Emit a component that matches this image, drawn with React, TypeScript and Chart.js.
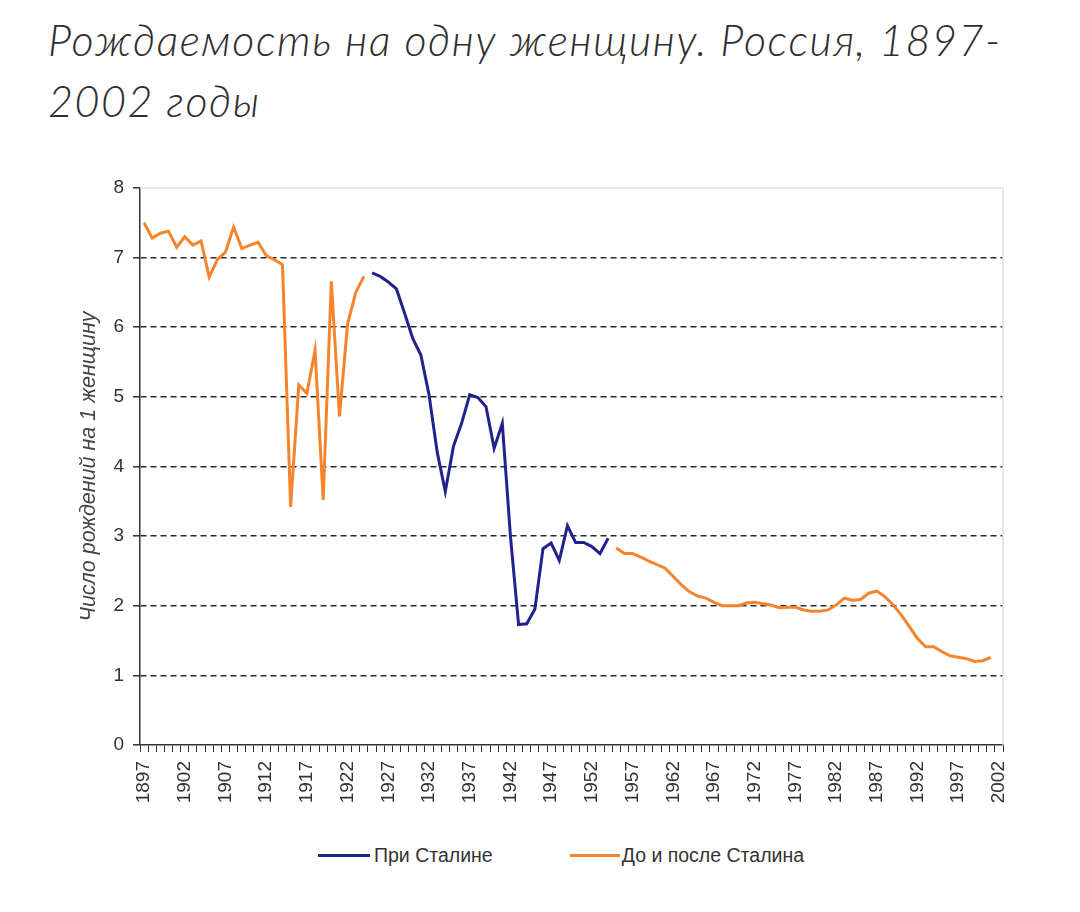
import React, { useEffect, useRef } from 'react';
import { Chart, registerables } from 'chart.js';

Chart.register(...registerables);

// Categories: every year 1897–2002
const categoryYears = [
  1897, 1898, 1899, 1900, 1901, 1902, 1903, 1904, 1905, 1906,
  1907, 1908, 1909, 1910, 1911, 1912, 1913, 1914, 1915, 1916,
  1917, 1918, 1919, 1920, 1921, 1922, 1923, 1924, 1925, 1926,
  1927, 1928, 1929, 1930, 1931, 1932, 1933, 1934, 1935, 1936,
  1937, 1938, 1939, 1940, 1941, 1942, 1943, 1944, 1945, 1946,
  1947, 1948, 1949, 1950, 1951, 1952, 1953, 1954, 1955, 1956,
  1957, 1958, 1959, 1960, 1961, 1962, 1963, 1964, 1965, 1966,
  1967, 1968, 1969, 1970, 1971, 1972, 1973, 1974, 1975, 1976,
  1977, 1978, 1979, 1980, 1981, 1982, 1983, 1984, 1985, 1986,
  1987, 1988, 1989, 1990, 1991, 1992, 1993, 1994, 1995, 1996,
  1997, 1998, 1999, 2000, 2001, 2002,
];

// Births per woman, 1897–1924 (before Stalin)
const preStalinStart = 1897;
const preStalinValues = [
  7.50, 7.28, 7.35, 7.38, 7.15, 7.30, 7.18, 7.24, 6.72, 6.97,
  7.08, 7.44, 7.13, 7.18, 7.22, 7.03, 6.97, 6.90, 3.42, 5.17,
  5.05, 5.67, 3.52, 6.66, 4.72, 6.05, 6.50, 6.73,
];

// Births per woman, 1925–1954 (under Stalin)
const stalinStart = 1925;
const stalinValues = [
  6.78, 6.73, 6.65, 6.55, 6.20, 5.84, 5.60, 5.03, 4.21, 3.64,
  4.29, 4.62, 5.03, 4.99, 4.86, 4.26, 4.62, 3.00, 1.73, 1.74,
  1.95, 2.82, 2.90, 2.65, 3.15, 2.91, 2.91, 2.85, 2.75, 2.97,
];

// Births per woman, 1955–2001 (after Stalin)
const postStalinStart = 1955;
const postStalinValues = [
  2.83, 2.75, 2.75, 2.70, 2.64, 2.59, 2.54, 2.42, 2.30, 2.20,
  2.14, 2.11, 2.05, 2.00, 2.00, 2.00, 2.04, 2.05, 2.03, 2.01,
  1.97, 1.98, 1.98, 1.94, 1.92, 1.92, 1.94, 2.01, 2.11, 2.08,
  2.09, 2.18, 2.21, 2.13, 2.01, 1.87, 1.70, 1.53, 1.41, 1.41,
  1.34, 1.28, 1.26, 1.24, 1.20, 1.21, 1.26,
];

const yTicks = [0, 1, 2, 3, 4, 5, 6, 7, 8];

const seriesNames = ['При Сталине', 'До и после Сталина'];
const BLUE = '#22228c';
const ORANGE = '#f5842c';
const TEXT = '#333333';

function pick(values: number[], start: number, year: number): number | null {
  const i = year - start;
  return i >= 0 && i < values.length ? values[i] : null;
}

const framePlugin = {
  id: 'frame',
  beforeDatasetsDraw(chart: any) {
    const { ctx, chartArea } = chart;
    ctx.save();
    ctx.strokeStyle = '#dedede';
    ctx.lineWidth = 1.5;
    ctx.beginPath();
    ctx.moveTo(chartArea.left, chartArea.top);
    ctx.lineTo(chartArea.right, chartArea.top);
    ctx.lineTo(chartArea.right, chartArea.bottom);
    ctx.stroke();
    ctx.restore();
  },
};

export default function App() {
  const ref = useRef<HTMLCanvasElement | null>(null);

  useEffect(() => {
    if (!ref.current) return;
    const stalinSeries = categoryYears.map((y) => pick(stalinValues, stalinStart, y));
    const otherSeries = categoryYears.map((y) =>
      y < stalinStart ? pick(preStalinValues, preStalinStart, y) : pick(postStalinValues, postStalinStart, y)
    );

    const chart = new Chart(ref.current, {
      type: 'line',
      data: {
        labels: categoryYears.map(String),
        datasets: [
          {
            label: seriesNames[0],
            data: stalinSeries,
            borderColor: BLUE,
            backgroundColor: BLUE,
            borderWidth: 3,
            pointRadius: 0,
            tension: 0,
            spanGaps: false,
          },
          {
            label: seriesNames[1],
            data: otherSeries,
            borderColor: ORANGE,
            backgroundColor: ORANGE,
            borderWidth: 3,
            pointRadius: 0,
            tension: 0,
            spanGaps: false,
          },
        ],
      },
      options: {
        animation: false,
        responsive: false,
        maintainAspectRatio: false,
        devicePixelRatio: 1,
        layout: { padding: { left: 0, right: 77, top: 38, bottom: 0 } },
        plugins: {
          legend: { display: false },
          tooltip: { enabled: false },
          title: { display: false },
        },
        scales: {
          x: {
            type: 'category',
            offset: true,
            grid: {
              display: true,
              drawOnChartArea: false,
              drawTicks: true,
              tickLength: 7,
              tickColor: TEXT,
              tickWidth: 1,
              offset: true,
            },
            border: { display: true, color: TEXT, width: 1.5 },
            ticks: {
              autoSkip: false,
              maxRotation: 90,
              minRotation: 90,
              padding: 9,
              color: TEXT,
              font: { family: '"Liberation Sans", Arial, sans-serif', size: 19 },
              callback: (_v: any, index: number) => {
                const y = categoryYears[index];
                return (y - categoryYears[0]) % 5 === 0 ? String(y) : '';
              },
            },
            afterFit: (scale: any) => {
              scale.height = 85;
            },
          },
          y: {
            min: yTicks[0],
            max: yTicks[yTicks.length - 1],
            afterBuildTicks: (scale: any) => {
              scale.ticks = yTicks.map((v) => ({ value: v }));
            },
            grid: {
              color: (ctx: any) =>
                ctx.tick && (ctx.tick.value === 0 || ctx.tick.value === 8) ? 'rgba(0,0,0,0)' : '#2a2a2a',
              lineWidth: 1.6,
              drawTicks: true,
              tickLength: 7,
              tickColor: TEXT,
              tickWidth: 1.5,
            },
            border: { display: true, color: TEXT, width: 1.5, dash: [6, 4] },
            ticks: {
              padding: 9,
              color: TEXT,
              font: { family: '"Liberation Sans", Arial, sans-serif', size: 19 },
            },
            title: {
              display: true,
              text: 'Число рождений на 1 женщину',
              color: '#444',
              font: { family: '"Liberation Sans", Arial, sans-serif', size: 21.5, style: 'italic' },
              padding: { top: 76, bottom: 0 },
            },
            afterFit: (scale: any) => {
              scale.width = 140;
            },
          },
        },
      },
      plugins: [framePlugin],
    });
    return () => chart.destroy();
  }, []);

  return (
    <div style={{ position: 'absolute', left: 0, top: 0, width: 1080, height: 912, background: '#fff', overflow: 'hidden' }}>
      <div
        style={{
          position: 'absolute',
          left: 48,
          top: 9,
          width: 1025,
          fontFamily: 'Lato, "Open Sans", sans-serif',
          fontStyle: 'italic',
          fontWeight: 300,
          fontSize: 43,
          letterSpacing: '1.6px',
          lineHeight: '61px',
          color: '#2e2e2e',
          whiteSpace: 'nowrap',
        }}
      >
        Рождаемость на одну женщину. Россия, 1897-
        <br />
        2002 годы
      </div>
      <canvas
        ref={ref}
        width={1080}
        height={680}
        style={{ position: 'absolute', left: 0, top: 150, width: 1080, height: 680 }}
      />
      <div
        style={{
          position: 'absolute',
          left: 318,
          top: 843,
          display: 'flex',
          alignItems: 'center',
          fontFamily: '"Liberation Sans", Arial, sans-serif',
          fontSize: 19.5,
          lineHeight: '24px',
          color: TEXT,
          whiteSpace: 'nowrap',
        }}
      >
        <span style={{ display: 'inline-block', width: 52, height: 3, background: BLUE, marginRight: 4 }} />
        <span>{seriesNames[0]}</span>
        <span style={{ display: 'inline-block', width: 50, height: 3, background: ORANGE, marginLeft: 77, marginRight: 2 }} />
        <span>{seriesNames[1]}</span>
      </div>
    </div>
  );
}
